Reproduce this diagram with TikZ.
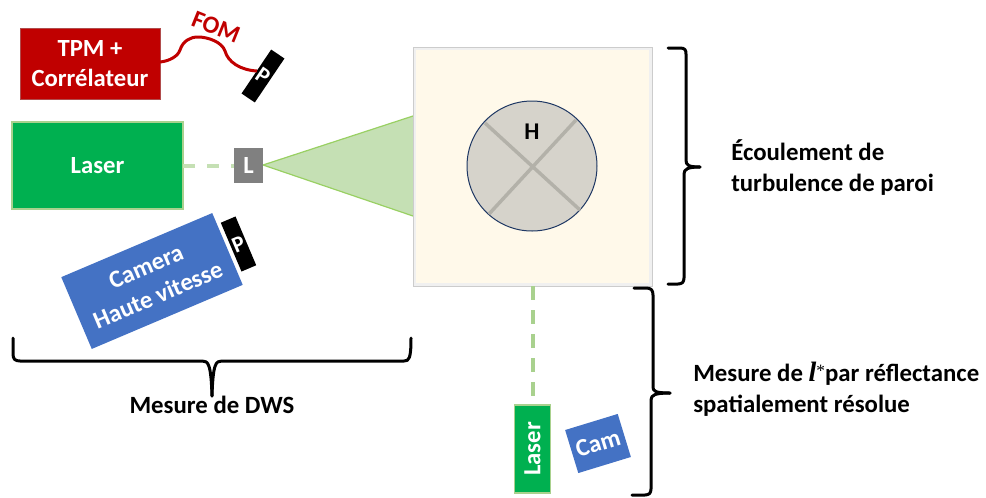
\documentclass[tikz,border=0pt]{standalone}
\usepackage{fontspec}
\setmainfont{Carlito}
\newfontfamily\lfont{Liberation Serif}
\usetikzlibrary{calc}
\definecolor{tred}{HTML}{C00000}
\definecolor{tgreen}{HTML}{00B050}
\definecolor{tblue}{HTML}{4472C4}
\definecolor{tbeam}{HTML}{C5E0B4}
\definecolor{tbeamd}{HTML}{A9D18E}
\definecolor{tedge}{HTML}{92D050}
\definecolor{tcream}{HTML}{FFF9EA}
\definecolor{tcirc}{HTML}{D6D3CB}
\definecolor{tbar}{HTML}{B3B1A9}
\definecolor{tnavy}{HTML}{1F3864}
\tikzset{
  x=0.75pt,y=-0.75pt,
  lbl/.style={font=\fontsize{18.5pt}{23pt}\selectfont\bfseries,align=center,text=white,inner sep=0pt},
  sidetxt/.style={font=\fontsize{18.6pt}{23.2pt}\selectfont\bfseries,align=left,text=black,inner sep=0pt,anchor=west},
  bracel/.style={line width=2.25pt,black,line join=round,line cap=round},
  polar/.style={fill=black,draw=none,text=white,inner sep=0pt,outer sep=0pt,font=\fontsize{17pt}{17pt}\selectfont\bfseries,minimum width=39.75pt,minimum height=12pt},
}
\begin{document}
\begin{tikzpicture}
\useasboundingbox (0,0) rectangle (986,497);
% beam
\coordinate (tipL) at (263,165);
\coordinate (beamA) at (413,116);
\coordinate (beamB) at (413,216);
\fill[tbeam] (tipL) -- (beamA) -- (beamB) -- cycle;
\draw[tedge!70!tbeamd,line width=0.9pt] (beamA) -- (tipL) -- (beamB);
% chamber
\node[draw=black!20,fill=black!6,line width=0.75pt,minimum width=179.25pt,minimum height=179.25pt,inner sep=0pt,outer sep=0pt] (chamber) at (532.5,166.5) {};
\node[fill=tcream,minimum width=175pt,minimum height=175pt,inner sep=0pt,outer sep=0pt] (chamberin) at (532.5,166.5) {};
\node[draw=tnavy,fill=tcirc,circle,line width=0.75pt,minimum size=97.5pt,inner sep=0pt] (head) at (532,166) {};
\coordinate (cr1) at (485,123); \coordinate (cr2) at (580,210);
\coordinate (cr3) at (489,214); \coordinate (cr4) at (576,120);
\draw[tbar,line width=2.6pt] (cr1) -- (cr2);
\draw[tbar,line width=2.6pt] (cr3) -- (cr4);
\node[font=\fontsize{18pt}{18pt}\selectfont\bfseries,inner sep=0pt] (hlabel) at (532,132) {H};
% boxes
\node[fill=tred,draw=black!25!tred!70!white,line width=0.5pt,lbl,minimum width=105pt,minimum height=53.25pt] (tpm) at (90,63.5) {TPM +\\Corrélateur};
\node[fill=tgreen,draw=tbeamd,line width=0.9pt,lbl,minimum width=128.25pt,minimum height=65.25pt,outer sep=0pt] (laser) at (97.5,165.5) {Laser};
\node[fill=black!50,draw=none,lbl,minimum width=21.75pt,minimum height=26.25pt,outer sep=0pt] (lens) at (248.5,165.5) {L};
\draw[tbeam,line width=3pt,dash pattern=on 9pt off 9pt] (laser.east) -- (lens.west);
% polarizers
\node[polar,rotate=56] (ptop) at (263,76) {\rotatebox{-90}{P}};
\node[polar,rotate=-67] (pcam) at (238.5,244) {\rotatebox{90}{P}};
% camera
\node[fill=tblue,lbl,minimum width=123pt,minimum height=58.5pt,rotate=23,outer sep=0pt] (camera) at (152,281) {Camera\\Haute vitesse};
% fibre
\coordinate (fibstart) at (160,62);
\coordinate (fibend) at (257,71);
\draw[tred,line width=2.25pt] (fibstart) .. controls (170,61) and (178,56) .. (180,50)
  .. controls (183,41) and (190,37) .. (198,37)
  .. controls (208,37) and (222,42) .. (225,51)
  .. controls (228,62) and (240,70) .. (fibend);
\node[font=\fontsize{18.5pt}{18.5pt}\selectfont\bfseries,text=tred,inner sep=0pt,rotate=-22] (fom) at (216,27) {FOM};
% small laser + camera
\node[fill=tgreen,draw=tbeamd,line width=0.9pt,lbl,minimum width=27pt,minimum height=66pt,outer sep=0pt] (laser2) at (532.5,449) {\rotatebox{90}{Laser}};
\draw[tbeamd,line width=3pt,dash pattern=on 10.5pt off 7.5pt] (chamber.south -| laser2.north) -- (laser2.north);
\node[fill=tblue,lbl,minimum width=41.25pt,minimum height=33.75pt,rotate=17,outer sep=0pt] (cam) at (598,443.5) {Cam};
% braces
\coordinate (b1a) at (668,48); \coordinate (b1t) at (700,167); \coordinate (b1b) at (668,284);
\draw[bracel] (b1a) -- (680,48) .. controls (685,48) and (686,50) .. (686,54) -- (686,160)
  .. controls (686,165) and (688,167) .. (b1t);
\draw[bracel] (b1t) .. controls (688,167) and (684,169) .. (684,174) -- (684,278)
  .. controls (684,282) and (682,284) .. (678,284) -- (b1b);
\coordinate (b2a) at (634,288); \coordinate (b2t) at (670,393); \coordinate (b2b) at (632,495);
\draw[bracel] (b2a) -- (646,288) .. controls (651,288) and (653,290) .. (653,295) -- (653,387)
  .. controls (653,391) and (655,393) .. (b2t);
\draw[bracel] (b2t) .. controls (655,393) and (651,395) .. (651,400) -- (651,489)
  .. controls (651,493) and (649,495) .. (645,495) -- (b2b);
\coordinate (b3a) at (13,338); \coordinate (b3t) at (212,396); \coordinate (b3b) at (411,338);
\draw[bracel] (b3a) -- (13,354) .. controls (13,359) and (15,361) .. (20,361) -- (202,361)
  .. controls (208,361) and (211,363) .. (b3t);
\draw[bracel] (b3t) .. controls (213,363) and (216,361) .. (222,361) -- (404,361)
  .. controls (409,361) and (411,359) .. (b3b);
% side texts
\node[font=\fontsize{18.6pt}{18.6pt}\selectfont\bfseries,inner sep=0pt] (dws) at (212,405) {Mesure de DWS};
\node[sidetxt] (ecoul) at (731,167.5) {Écoulement de\\turbulence de paroi};
\node[sidetxt] (mesure) at (693,389.5) {Mesure de {\lfont\itshape\fontsize{21pt}{21pt}\selectfont l}\raisebox{0.45ex}{\fontsize{13pt}{13pt}\selectfont\lfont\mdseries *}par réflectance\\spatialement résolue};
\end{tikzpicture}
\end{document}
